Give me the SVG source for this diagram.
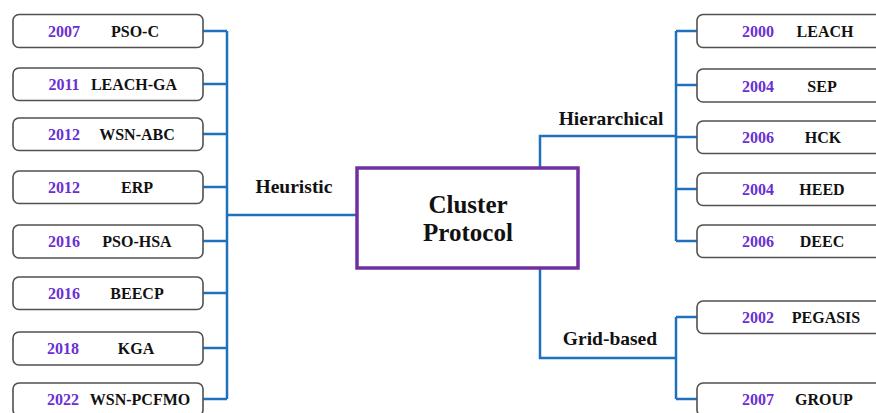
<svg xmlns="http://www.w3.org/2000/svg" width="876" height="413" viewBox="0 0 876 413" font-family="'Liberation Serif','Times New Roman',Times,'DejaVu Serif',serif">
<style>
text{font-family:'Liberation Serif','Times New Roman',Times,'DejaVu Serif',serif;font-weight:bold}
.box{fill:#fff;stroke:#505050;stroke-width:1.6}
.yr{font-size:16px;fill:#6a2fd4;text-anchor:middle}
.nm{font-size:16px;fill:#111;text-anchor:middle}
.lbl{font-size:19.5px;fill:#111;text-anchor:middle}
.ctr{font-size:25px;fill:#111;text-anchor:middle}
.ln{fill:none;stroke:#1f70bd;stroke-width:2.5}
</style>
<rect width="876" height="413" fill="#fff"/>
<g id="connectors">
<path class="ln" d="M227 31V399M203 31H227M203 84H227M203 134H227M203 187H227M203 241H227M203 293H227M203 348H227M203 399H227M227 215H357"/>
<path class="ln" d="M540 168V136H676M676 31V241M676 31H697M676 85H697M676 137H697M676 189H697M676 241H697"/>
<path class="ln" d="M540 268V358H676M676 317V399M676 317H697M676 399H697"/>
</g>
<g id="center"><rect x="357" y="168" width="221" height="100" fill="#fff" stroke="#7030a0" stroke-width="3.5"/><text class="ctr" x="468" y="213">Cluster</text><text class="ctr" x="468" y="241">Protocol</text></g>
<g id="lbl-heuristic"><text class="lbl" x="294" y="193">Heuristic</text></g>
<g id="lbl-hier"><text class="lbl" x="611" y="125">Hierarchical</text></g>
<g id="lbl-grid"><text class="lbl" x="610" y="345">Grid-based</text></g>
<g id="n-psoc"><rect class="box" x="13" y="14.5" width="190" height="33" rx="6"/><text class="yr" x="64" y="37">2007</text><text class="nm" x="135" y="37">PSO-C</text></g>
<g id="n-leachga"><rect class="box" x="13" y="68" width="190" height="32.5" rx="6"/><text class="yr" x="64" y="90">2011</text><text class="nm" x="134" y="90">LEACH-GA</text></g>
<g id="n-wsnabc"><rect class="box" x="13" y="118" width="190" height="32.5" rx="6"/><text class="yr" x="64" y="140">2012</text><text class="nm" x="137" y="140">WSN-ABC</text></g>
<g id="n-erp"><rect class="box" x="13" y="171" width="190" height="32.5" rx="6"/><text class="yr" x="64" y="193">2012</text><text class="nm" x="137" y="193">ERP</text></g>
<g id="n-psohsa"><rect class="box" x="13" y="225" width="190" height="33" rx="6"/><text class="yr" x="64" y="247">2016</text><text class="nm" x="137" y="247">PSO-HSA</text></g>
<g id="n-beecp"><rect class="box" x="13" y="277" width="190" height="32.5" rx="6"/><text class="yr" x="64" y="299">2016</text><text class="nm" x="137" y="299">BEECP</text></g>
<g id="n-kga"><rect class="box" x="13" y="332" width="190" height="33" rx="6"/><text class="yr" x="63" y="354">2018</text><text class="nm" x="136" y="354">KGA</text></g>
<g id="n-wsnpcfmo"><rect class="box" x="13" y="383" width="190" height="33" rx="6"/><text class="yr" x="63" y="405">2022</text><text class="nm" x="140" y="405">WSN-PCFMO</text></g>
<g id="n-leach"><rect class="box" x="697" y="14.5" width="190" height="33" rx="6"/><text class="yr" x="758" y="37">2000</text><text class="nm" x="825" y="37">LEACH</text></g>
<g id="n-sep"><rect class="box" x="697" y="69" width="190" height="33" rx="6"/><text class="yr" x="758" y="92">2004</text><text class="nm" x="822" y="92">SEP</text></g>
<g id="n-hck"><rect class="box" x="697" y="121" width="190" height="32.5" rx="6"/><text class="yr" x="758" y="143">2006</text><text class="nm" x="823" y="143">HCK</text></g>
<g id="n-heed"><rect class="box" x="697" y="173" width="190" height="32.5" rx="6"/><text class="yr" x="758" y="195">2004</text><text class="nm" x="822" y="195">HEED</text></g>
<g id="n-deec"><rect class="box" x="697" y="225" width="190" height="32.5" rx="6"/><text class="yr" x="758" y="247">2006</text><text class="nm" x="822" y="247">DEEC</text></g>
<g id="n-pegasis"><rect class="box" x="697" y="301" width="190" height="32.5" rx="6"/><text class="yr" x="758" y="323">2002</text><text class="nm" x="826" y="323">PEGASIS</text></g>
<g id="n-group"><rect class="box" x="697" y="383" width="190" height="33" rx="6"/><text class="yr" x="758" y="405">2007</text><text class="nm" x="824" y="405">GROUP</text></g>
</svg>
